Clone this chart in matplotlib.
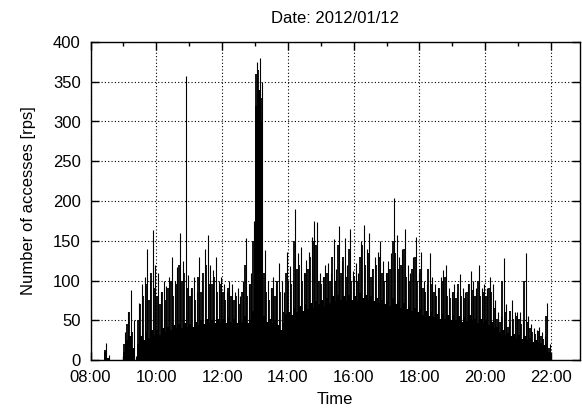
import numpy as np
import matplotlib
matplotlib.use('Agg')
import matplotlib.pyplot as plt
from matplotlib.ticker import MultipleLocator, FuncFormatter

plt.rcParams['font.family'] = ['Liberation Sans', 'DejaVu Sans']
plt.rcParams['font.size'] = 12

# request rate, one value per 5 minute bin starting 08:00
# peak = tallest spike in the bin, mid = the next tallest, base = solid black level
peak = [
    0, 0, 0, 0, 0, 22, 6, 0, 0, 0, 0, 0,                                  # 08
    35, 60, 88, 50, 5, 72, 95, 105, 140, 100, 163, 120,                   # 09
    110, 85, 100, 93, 105, 130, 100, 117, 160, 125, 357, 107,             # 10
    90, 105, 86, 130, 100, 140, 157, 120, 113, 130, 100, 105,             # 11
    95, 85, 100, 95, 85, 90, 80, 100, 153, 95, 110, 175,                  # 12
    375, 380, 350, 138, 100, 90, 105, 95, 122, 100, 85, 136,              # 13
    118, 100, 190, 135, 142, 110, 126, 136, 155, 175, 173, 110,           # 14
    105, 120, 122, 110, 152, 115, 168, 125, 154, 120, 165, 112,           # 15
    122, 110, 150, 170, 140, 160, 115, 130, 136, 150, 125, 110,           # 16
    125, 135, 204, 157, 130, 140, 165, 120, 110, 130, 155, 110,           # 17
    136, 100, 95, 135, 105, 95, 90, 105, 113, 119, 90, 85,                # 18
    95, 85, 108, 90, 85, 95, 112, 100, 90, 119, 90, 95,                   # 19
    90, 105, 95, 75, 60, 55, 128, 70, 46, 75, 60, 61,                     # 20
    60, 50, 134, 55, 45, 40, 38, 42, 35, 30, 72, 20,                      # 21
    0, 0, 0, 0, 0, 0, 0, 0, 0, 0, 2,                                      # 22
]
mid = [
    0, 0, 0, 0, 0, 12, 3, 0, 0, 0, 0, 0,
    20, 45, 60, 35, 0, 50, 70, 80, 95, 75, 110, 90,
    80, 70, 85, 75, 90, 100, 80, 95, 120, 100, 110, 90,
    80, 90, 75, 105, 85, 110, 120, 95, 95, 105, 85, 95,
    85, 75, 90, 80, 75, 80, 70, 85, 120, 80, 95, 150,
    360, 365, 330, 110, 85, 75, 90, 80, 100, 85, 60, 110,
    100, 95, 150, 115, 120, 100, 110, 115, 130, 150, 145, 100,
    95, 105, 110, 100, 130, 100, 145, 110, 130, 105, 140, 100,
    105, 100, 130, 145, 120, 135, 105, 115, 120, 130, 110, 100,
    110, 115, 150, 135, 115, 120, 140, 105, 100, 115, 130, 100,
    115, 90, 85, 115, 95, 85, 80, 90, 100, 105, 80, 78,
    85, 78, 95, 80, 78, 85, 95, 88, 80, 100, 80, 85,
    80, 90, 85, 65, 52, 48, 100, 60, 42, 62, 52, 55,
    52, 45, 100, 48, 40, 35, 33, 36, 30, 26, 55, 15,
    0, 0, 0, 0, 0, 0, 0, 0, 0, 0, 0,
]
base = [
    0, 0, 0, 0, 0, 10, 2, 0, 0, 0, 0, 0,
    10, 25, 30, 15, 0, 20, 30, 25, 35, 28, 38, 32,
    38, 32, 40, 35, 42, 38, 44, 40, 45, 40, 46, 42,
    45, 42, 48, 44, 50, 45, 52, 46, 50, 47, 52, 48,
    52, 46, 54, 48, 52, 46, 50, 48, 55, 47, 50, 62,
    320, 340, 300, 55, 48, 52, 46, 50, 44, 38, 46, 58,
    60, 56, 66, 60, 68, 62, 70, 64, 72, 66, 74, 70,
    75, 68, 78, 72, 80, 74, 82, 76, 80, 74, 82, 76,
    80, 74, 84, 78, 82, 76, 80, 74, 78, 72, 76, 70,
    74, 68, 78, 70, 74, 66, 72, 64, 68, 62, 66, 60,
    64, 56, 62, 55, 60, 54, 58, 52, 58, 52, 56, 50,
    56, 50, 55, 48, 54, 49, 56, 50, 52, 46, 52, 46,
    50, 44, 48, 40, 42, 35, 38, 32, 34, 30, 33, 28,
    32, 27, 30, 25, 28, 23, 25, 21, 22, 19, 20, 10,
    0, 0, 0, 0, 0, 0, 0, 0, 0, 0, 0,
]
hours = 8 + np.arange(len(peak)) * 5 / 60

title = 'Date: 2012/01/12'
x_ticks = [8, 10, 12, 14, 16, 18, 20, 22]

fig = plt.figure(figsize=(5.82, 4.11), dpi=100)
ax = fig.add_axes([90.5 / 582, 1 - 360 / 411, 489.5 / 582, 318 / 411])

ax.fill_between(hours, base, step='post', color='black', lw=0, zorder=2)
ax.vlines(hours + 1.0 / 60, 0, mid, color='black', lw=1.3, zorder=2)
ax.vlines(hours + 3.5 / 60, 0, peak, color='black', lw=0.8, zorder=2)

ax.set_xlim(8, 22.88)
ax.set_ylim(0, 400)
ax.set_xticks(x_ticks)
ax.xaxis.set_minor_locator(MultipleLocator(1))
ax.xaxis.set_major_formatter(FuncFormatter(lambda v, p: f'{int(v):02d}:00'))
ax.yaxis.set_major_locator(MultipleLocator(50))

ax.tick_params(which='both', direction='in', top=True, right=True, width=1)
ax.tick_params(which='major', length=6)
ax.tick_params(which='minor', length=3)
ax.tick_params(axis='x', pad=7)
ax.tick_params(axis='y', pad=7)

ax.grid(True, which='major', color='black', lw=0.8, ls=(0, (1, 2)))
ax.set_axisbelow(True)
for s in ax.spines.values():
    s.set_linewidth(1)

ax.set_title(title, fontsize=12, pad=14)
ax.set_xlabel('Time', labelpad=5)
ax.set_ylabel('Number of accesses [rps]', labelpad=12)

fig.savefig('out.png', dpi=100)
